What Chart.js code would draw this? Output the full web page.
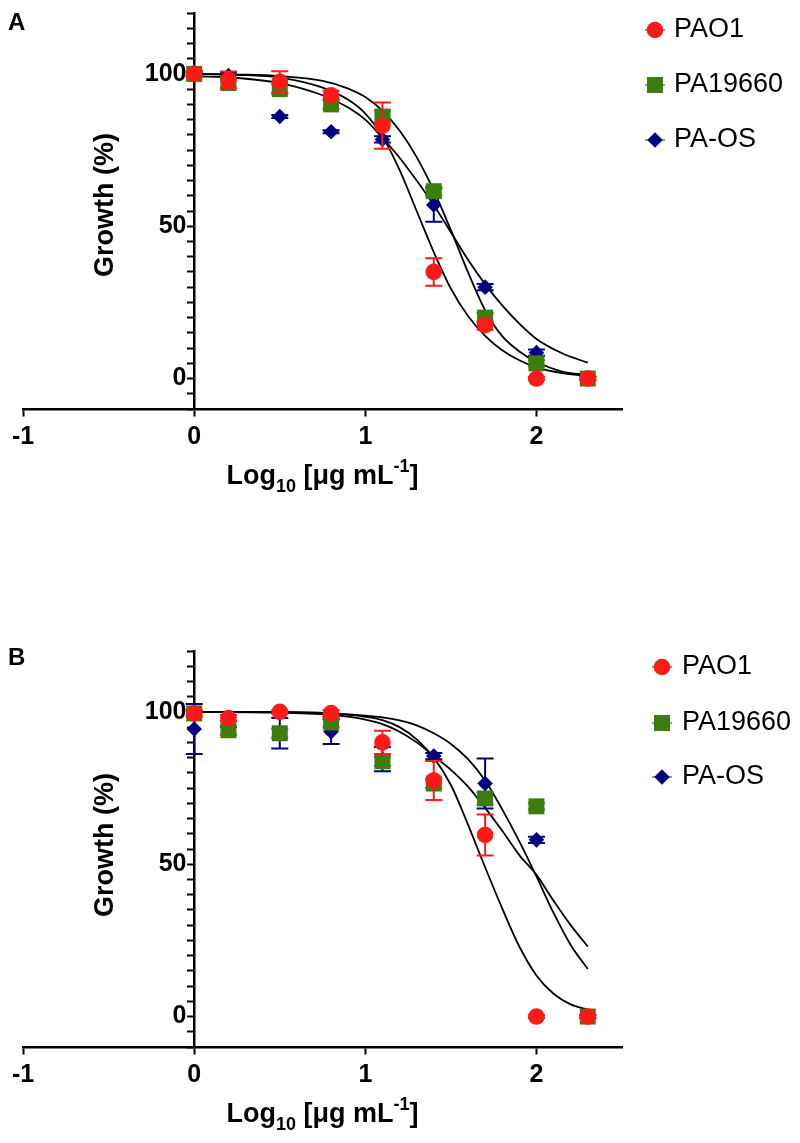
<!DOCTYPE html>
<html>
<head>
<meta charset="utf-8">
<title>Growth vs dose</title>
<script src="https://cdn.jsdelivr.net/npm/chart.js@4.4.0/dist/chart.umd.min.js"></script>
<style>
  html, body { margin: 0; padding: 0; background: #fff; }
  #wrap { position: relative; width: 800px; height: 1143px; overflow: hidden; }
  canvas { position: absolute; left: 0; }
  #chartA { top: 0; }
  #chartB { top: 638px; }
</style>
</head>
<body>
<div id="wrap">
  <canvas id="chartA" width="800" height="505"></canvas>
  <canvas id="chartB" width="800" height="505"></canvas>
</div>
<script>
var FONT = '"Liberation Sans", Arial, Helvetica, sans-serif';

var strains = ['PAO1', 'PA19660', 'PA-OS'];
var strainColors = ['#ff1a1a', '#3c7d0e', '#00007f'];
var logDose = [0, 0.2, 0.5, 0.8, 1.1, 1.4, 1.7, 2.0, 2.3];
var xTicks = [-1, 0, 1, 2];
var yTickLabels = [0, 50, 100];

// Panel A - measured growth (%) and SEM
var growthA_PAO1 = [100, 98, 97.4, 93, 83, 35, 17.5, 0, 0];
var growthA_PA19660 = [100, 97, 95, 90, 86, 61.5, 20, 5, 0];
var growthA_PAOS = [100, 99.5, 86, 81, 78.5, 57, 30, 8.5, 0];
var errA_PAO1 = [1, 2.8, 3.5, 1.5, 7.6, 4.5, 1.5, 0.5, 0.5];
var errA_PA19660 = [1, 1.5, 1.5, 1.5, 2, 1.5, 1.5, 1, 0.5];
var errA_PAOS = [0.5, 1, 0.5, 0.5, 1, 5.5, 1, 1, 0.5];

// Panel A - fitted curves
var fitX_A = [0, 0.25, 0.5, 0.75, 0.9, 1.0, 1.1, 1.2, 1.3, 1.4, 1.5, 1.6, 1.7, 1.8, 1.9, 2.0, 2.15, 2.3];
var fitA_PAO1 = [100, 99.7, 98.8, 95.5, 91.5, 87, 79.5, 68.5, 55, 41.5, 29.5, 20.5, 14, 9.3, 6, 3.7, 1.8, 0.8];
var fitA_PA19660 = [100, 99.8, 99.3, 97.7, 95.2, 92.4, 87.9, 81.4, 72.7, 61.7, 48.7, 34.9, 22.4, 13.9, 8.9, 5.5, 2.3, 1.2];
var fitA_PAOS = [99.3, 98.7, 97, 93, 89, 85, 79, 72.5, 65, 57, 48, 39, 31, 24, 18, 13, 8.3, 5.2];

// Panel B - measured growth (%) and SEM
var growthB_PAO1 = [99.5, 98, 100, 99.6, 90, 77.5, 59.6, 0, 0];
var growthB_PA19660 = [99.5, 94, 93, 96.5, 83.8, 76.5, 71.6, 69, 0];
var growthB_PAOS = [94.4, 96, 93, 93.5, 84.5, 85.5, 76.5, 58, 0];
var errB_PAO1 = [1, 1, 0.5, 1, 3.8, 6.4, 6.7, 0.5, 0.5];
var errB_PA19660 = [1, 1.5, 1.5, 1.5, 1.5, 1.5, 2, 1, 0.5];
var errB_PAOS = [8.2, 1, 5, 4, 4, 1, 8.2, 1, 0.5];

// Panel B - fitted curves
var fitX_B = [0, 0.5, 0.8, 1.0, 1.1, 1.2, 1.3, 1.4, 1.5, 1.6, 1.7, 1.8, 1.9, 2.0, 2.1, 2.2, 2.3];
var fitB_PAO1 = [100, 100, 99.5, 98.4, 97.3, 95, 91, 85, 76, 63, 49, 35.5, 23, 13.5, 7.5, 4, 2.3];
var fitB_PA19660 = [100, 99.8, 99, 97.5, 96, 93.5, 90, 85.5, 81, 75.5, 68.5, 61, 53, 46.5, 38, 30, 23];
var fitB_PAOS = [100, 99.9, 99.5, 98.8, 98.2, 97.2, 95.6, 93, 89.5, 84.5, 77.5, 68, 57.5, 46, 34, 23.5, 15.6];

var markerStyles = ['circle', 'rect', 'rectRot'];
var markerRadius = [8.3, 11.3, 7.8];

function pts(xs, ys) {
    return xs.map(function(x, i) { return { x: x, y: ys[i] }; });
}

// Error bars, drawn just before each marker dataset
var errorBars = {
    id: 'errorBars',
    beforeDatasetDraw: function(chart, args) {
        var ds = chart.data.datasets[args.index];
        if (!ds.errors) return;
        var ctx = chart.ctx;
        var xs = chart.scales.x, ys = chart.scales.y;
        ctx.save();
        ctx.strokeStyle = ds.backgroundColor;
        ctx.lineWidth = 2;
        ds.data.forEach(function(p, i) {
            var e = ds.errors[i];
            if (!e) return;
            var px = xs.getPixelForValue(p.x);
            var top = ys.getPixelForValue(p.y + e);
            var bot = ys.getPixelForValue(p.y - e);
            ctx.beginPath();
            ctx.moveTo(px, top); ctx.lineTo(px, bot);
            ctx.moveTo(px - 8.5, top); ctx.lineTo(px + 8.5, top);
            ctx.moveTo(px - 8.5, bot); ctx.lineTo(px + 8.5, bot);
            ctx.stroke();
        });
        ctx.restore();
    }
};

function drawMarker(ctx, style, r, x, y, color) {
    ctx.fillStyle = color;
    ctx.beginPath();
    if (style === 'circle') {
        ctx.arc(x, y, r, 0, Math.PI * 2);
    } else if (style === 'rect') {
        var s = r * Math.SQRT1_2;
        ctx.rect(x - s, y - s, 2 * s, 2 * s);
    } else {
        ctx.moveTo(x - r, y);
        ctx.lineTo(x, y - r);
        ctx.lineTo(x + r, y);
        ctx.lineTo(x, y + r);
        ctx.closePath();
    }
    ctx.fill();
}

// Panel letter, axis titles and legend
var decor = {
    id: 'decor',
    afterDraw: function(chart, args, opts) {
        var ctx = chart.ctx, area = chart.chartArea;
        ctx.save();
        ctx.fillStyle = '#000';

        ctx.font = 'bold 24px ' + FONT;
        ctx.textAlign = 'left';
        ctx.textBaseline = 'alphabetic';
        ctx.fillText(opts.letter, 8, opts.letterY);

        // y title
        ctx.save();
        ctx.translate(106, opts.yTitleY);
        ctx.rotate(-Math.PI / 2);
        ctx.font = 'bold 27px ' + FONT;
        ctx.textAlign = 'center';
        ctx.textBaseline = 'middle';
        ctx.fillText('Growth (%)', 0, 0);
        ctx.restore();

        // x title with subscript / superscript
        var parts = [
            { t: 'Log', size: 27, dy: 0 },
            { t: '10', size: 18, dy: 8 },
            { t: ' [μg mL', size: 27, dy: 0 },
            { t: '-1', size: 18, dy: -12 },
            { t: ']', size: 27, dy: 0 }
        ];
        var total = 0;
        parts.forEach(function(p) {
            ctx.font = 'bold ' + p.size + 'px ' + FONT;
            p.w = ctx.measureText(p.t).width;
            total += p.w;
        });
        var x = (area.left + area.right) / 2 - total / 2;
        ctx.textAlign = 'left';
        ctx.textBaseline = 'alphabetic';
        parts.forEach(function(p) {
            ctx.font = 'bold ' + p.size + 'px ' + FONT;
            ctx.fillText(p.t, x, opts.xTitleBase + p.dy);
            x += p.w;
        });

        // legend
        ctx.font = '27px ' + FONT;
        ctx.textBaseline = 'middle';
        strains.forEach(function(name, i) {
            var y = opts.legendY[i];
            ctx.strokeStyle = '#333';
            ctx.lineWidth = 1;
            ctx.beginPath();
            ctx.moveTo(opts.markerX - 10, y);
            ctx.lineTo(opts.markerX + 10, y);
            ctx.stroke();
            drawMarker(ctx, markerStyles[i], markerRadius[i], opts.markerX, y, strainColors[i]);
            ctx.fillStyle = '#000';
            ctx.fillText(name, opts.textX, y);
        });
        ctx.restore();
    }
};

var tickFont = { family: FONT, size: 25, weight: 'bold', lineHeight: 0.8 };

function buildChart(id, growth, errs, fitX, fits, decorOpts) {
    var datasets = [];
    strains.forEach(function(name, i) {
        datasets.push({
            label: name,
            data: pts(logDose, growth[i]),
            errors: errs[i],
            showLine: false,
            pointStyle: markerStyles[i],
            pointRadius: markerRadius[i],
            backgroundColor: strainColors[i],
            borderColor: strainColors[i],
            borderWidth: 0,
            clip: false
        });
    });
    fits.forEach(function(f, i) {
        datasets.push({
            label: strains[i] + ' fit',
            data: pts(fitX, f),
            showLine: true,
            pointRadius: 0,
            borderColor: '#000',
            borderWidth: 1.8,
            cubicInterpolationMode: 'monotone',
            fill: false,
            clip: false
        });
    });

    return new Chart(document.getElementById(id).getContext('2d'), {
        type: 'scatter',
        data: { datasets: datasets },
        plugins: [errorBars, decor],
        options: {
            responsive: false,
            animation: false,
            events: [],
            devicePixelRatio: 1,
            layout: { padding: { left: 21, right: 178, top: 12, bottom: 96 } },
            plugins: {
                legend: { display: false },
                tooltip: { enabled: false },
                decor: decorOpts
            },
            scales: {
                x: {
                    type: 'linear',
                    position: { y: -10 },
                    min: -1,
                    max: 2.5,
                    border: { color: '#000', width: 2.5 },
                    grid: { drawOnChartArea: false, drawTicks: true, tickLength: 6, tickColor: '#000', tickWidth: 2 },
                    ticks: {
                        stepSize: 1,
                        includeBounds: false,
                        autoSkip: false,
                        padding: 12,
                        color: '#000',
                        font: tickFont,
                        callback: function(v) { return xTicks.indexOf(v) >= 0 ? String(v) : ''; }
                    }
                },
                // axis line and tick marks at x = 0
                y: {
                    type: 'linear',
                    position: { x: 0 },
                    min: -10,
                    max: 120,
                    border: { color: '#000', width: 2.5 },
                    grid: { drawOnChartArea: false, drawTicks: true, tickLength: 6, tickColor: '#000', tickWidth: 2 },
                    ticks: { stepSize: 5, autoSkip: false, display: false }
                },
                // tick labels only, set just left of the tick marks
                yLabels: {
                    type: 'linear',
                    axis: 'y',
                    position: { x: -0.045 },
                    min: -10,
                    max: 120,
                    border: { display: false },
                    grid: { display: false },
                    ticks: {
                        stepSize: 5,
                        autoSkip: false,
                        color: '#000',
                        font: tickFont,
                        callback: function(v) { return yTickLabels.indexOf(v) >= 0 ? String(v) : ''; }
                    }
                }
            }
        }
    });
}

buildChart('chartA',
    [growthA_PAO1, growthA_PA19660, growthA_PAOS],
    [errA_PAO1, errA_PA19660, errA_PAOS],
    fitX_A,
    [fitA_PAO1, fitA_PA19660, fitA_PAOS],
    { letter: 'A', letterY: 30, yTitleY: 205, xTitleBase: 484, markerX: 655, textX: 674, legendY: [30, 85, 140] });

buildChart('chartB',
    [growthB_PAO1, growthB_PA19660, growthB_PAOS],
    [errB_PAO1, errB_PA19660, errB_PAOS],
    fitX_B,
    [fitB_PAO1, fitB_PA19660, fitB_PAOS],
    { letter: 'B', letterY: 27, yTitleY: 207, xTitleBase: 484, markerX: 662, textX: 682, legendY: [29, 85, 139] });
</script>
</body>
</html>
